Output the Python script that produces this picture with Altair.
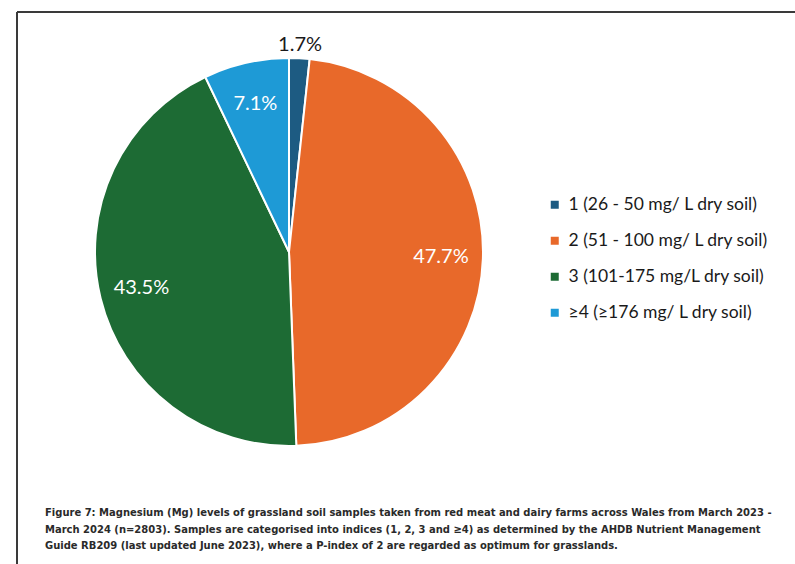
import altair as alt
import pandas as pd

categories = ["1 (26 - 50 mg/ L dry soil)", "2 (51 - 100 mg/ L dry soil)",
              "3 (101-175 mg/L dry soil)", "≥4 (≥176 mg/ L dry soil)"]
values = [1.7, 47.7, 43.5, 7.1]
labels = ["1.7%", "47.7%", "43.5%", "7.1%"]
colors = ["#1d5b82", "#e8692a", "#1d6b34", "#1e9ad6"]
caption = [
    "Figure 7: Magnesium (Mg) levels of grassland soil samples taken from red meat and dairy farms across Wales from March 2023 -",
    "March 2024 (n=2803). Samples are categorised into indices (1, 2, 3 and ≥4) as determined by the AHDB Nutrient Management",
    "Guide RB209 (last updated June 2023), where a P-index of 2 are regarded as optimum for grasslands.",
]

df = pd.DataFrame({"cat": categories, "value": values, "label": labels,
                   "idx": list(range(len(categories)))})
cap_df = pd.DataFrame({"line": caption, "row": list(range(len(caption)))})

CX, CY, R = 289, 252, 194
FONT = "Lato"

base = alt.Chart(df).encode(
    theta=alt.Theta("value:Q", stack=True),
    order=alt.Order("idx:Q"),
)

pie = base.mark_arc(x=CX, y=CY, outerRadius=R, stroke="white", strokeWidth=2).encode(
    color=alt.Color(
        "cat:N",
        scale=alt.Scale(domain=categories, range=colors),
        sort=None,
        legend=alt.Legend(
            title=None, orient="none", legendX=546, legendY=196,
            symbolType="square", symbolSize=64, symbolStrokeWidth=0,
            labelFontSize=17.5, labelFont=FONT, labelColor="#1a1a1a",
            rowPadding=17, labelOffset=5, labelLimit=400,
        ),
    )
)

inner = base.mark_text(x=CX, y=CY, radius=152, font=FONT, fontSize=20, color="white").encode(
    text=alt.condition(alt.datum.value >= 5, alt.Text("label:N"), alt.value(""))
)
outer = base.mark_text(x=CX, y=CY, radius=207, font=FONT, fontSize=20, color="#1a1a1a").encode(
    text=alt.condition(alt.datum.value < 5, alt.Text("label:N"), alt.value(""))
)

cap = alt.Chart(cap_df).mark_text(
    align="left", baseline="middle", font="DejaVu Sans Condensed", fontSize=11.1,
    fontWeight="bold", color="#2a2a2a"
).encode(
    x=alt.value(45),
    y=alt.Y("row:Q", axis=None, scale=alt.Scale(domain=[0, 2], range=[513, 546])),
    text="line:N",
)

vline = alt.Chart(df).mark_rule(color="#3a3a3a", strokeWidth=2).encode(
    x=alt.value(17), y=alt.value(12), y2=alt.value(564)
)
hline = alt.Chart(df).mark_rule(color="#3a3a3a", strokeWidth=2).encode(
    x=alt.value(17), x2=alt.value(795), y=alt.value(12)
)

chart = alt.layer(vline, hline, pie, inner, outer, cap).properties(
    width=795, height=564, padding=0, autosize=alt.AutoSizeParams(type="none")
).configure_view(stroke=None).resolve_scale(y="independent")

chart.save("out.html", embed_options={"renderer": "svg", "actions": False})
